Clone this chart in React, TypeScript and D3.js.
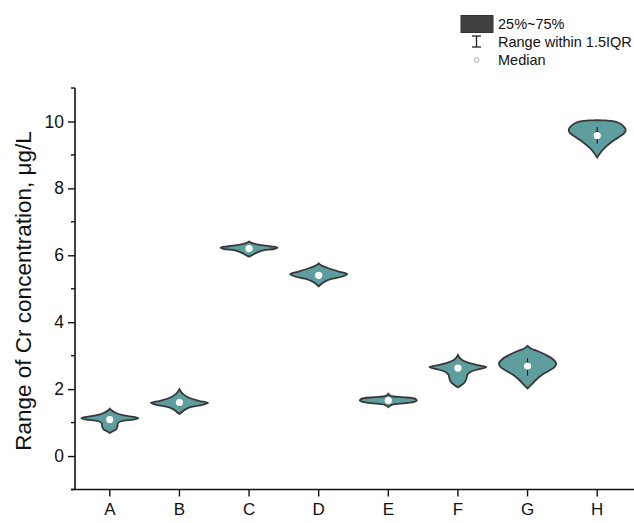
import React, { useEffect, useRef } from 'react';
import * as d3 from 'd3';

// groups on the x axis
const categories = ['A', 'B', 'C', 'D', 'E', 'F', 'G', 'H'];

// violin outlines: [value, relative density]
const profileA = [[1.42, 0], [1.36, 0.07], [1.30, 0.18], [1.22, 0.45], [1.16, 0.88], [1.13, 1.0], [1.09, 0.82], [1.04, 0.4], [0.98, 0.28], [0.88, 0.27], [0.80, 0.22], [0.74, 0.1], [0.69, 0]];
const profileB = [[2.00, 0], [1.93, 0.05], [1.85, 0.13], [1.75, 0.32], [1.65, 0.68], [1.59, 1.0], [1.53, 0.8], [1.46, 0.38], [1.38, 0.18], [1.30, 0.07], [1.26, 0]];
const profileC = [[6.41, 0], [6.37, 0.08], [6.32, 0.32], [6.27, 0.72], [6.23, 1.0], [6.19, 0.9], [6.15, 0.5], [6.10, 0.33], [6.04, 0.18], [5.99, 0.07], [5.96, 0]];
const profileD = [[5.76, 0], [5.70, 0.08], [5.62, 0.32], [5.52, 0.68], [5.44, 1.0], [5.38, 0.88], [5.30, 0.48], [5.22, 0.23], [5.14, 0.09], [5.07, 0]];
const profileE = [[1.86, 0], [1.80, 0.08], [1.76, 0.5], [1.73, 0.85], [1.70, 0.97], [1.66, 1.0], [1.62, 0.9], [1.58, 0.6], [1.53, 0.12], [1.46, 0]];
const profileF = [[3.02, 0], [2.95, 0.05], [2.88, 0.13], [2.80, 0.33], [2.72, 0.68], [2.66, 1.0], [2.60, 0.75], [2.52, 0.45], [2.43, 0.33], [2.32, 0.3], [2.22, 0.25], [2.13, 0.14], [2.05, 0]];
const profileG = [[3.29, 0], [3.22, 0.1], [3.14, 0.35], [3.02, 0.65], [2.90, 0.88], [2.78, 1.0], [2.66, 0.95], [2.55, 0.75], [2.42, 0.5], [2.28, 0.3], [2.14, 0.14], [2.02, 0]];
const profileH = [[10.04, 0], [10.03, 0.3], [10.01, 0.55], [9.96, 0.75], [9.86, 0.92], [9.75, 1.0], [9.65, 0.95], [9.50, 0.7], [9.35, 0.45], [9.20, 0.25], [9.05, 0.1], [8.92, 0]];
const profiles = [profileA, profileB, profileC, profileD, profileE, profileF, profileG, profileH];

// box stats per group
const medians = [1.09, 1.60, 6.20, 5.40, 1.66, 2.63, 2.69, 9.58];
const q1s = [1.04, 1.55, 6.17, 5.36, 1.63, 2.58, 2.58, 9.50];
const q3s = [1.14, 1.65, 6.23, 5.45, 1.69, 2.68, 2.80, 9.70];
const whiskLo = [0.98, 1.48, 6.12, 5.30, 1.60, 2.52, 2.40, 9.34];
const whiskHi = [1.20, 1.70, 6.27, 5.50, 1.72, 2.74, 2.93, 9.83];

const yTicks = [0, 2, 4, 6, 8, 10];
const yMinorTicks = [-1, 1, 3, 5, 7, 9, 11];

const legendLabels = ['25%~75%', 'Range within 1.5IQR', 'Median'];

const W = 634, H = 523;
const font = 'Arial, "Liberation Sans", sans-serif';

export default function App() {
  const ref = useRef<SVGSVGElement>(null);

  useEffect(() => {
    const svg = d3.select(ref.current);
    svg.selectAll('*').remove();

    const x = d3.scaleBand().domain(categories).range([75, 632]);
    const y = d3.scaleLinear().domain([-1, 11]).range([489.5, 88]);
    const wScale = d3.scaleLinear().domain([0, 1]).range([0, 28.5]);

    // axes
    const yAxis = d3.axisLeft(y).tickValues(yTicks).tickSize(7).tickPadding(4).tickFormat(d3.format('d'));
    const gy = svg.append('g').attr('transform', 'translate(75,0)').call(yAxis);
    gy.select('.domain').remove();
    gy.selectAll('text').attr('font-size', 17.5).attr('font-family', font).attr('fill', '#111');
    gy.selectAll('line').attr('stroke', '#111').attr('stroke-width', 1.4);
    gy.selectAll('.minor')
      .data(yMinorTicks)
      .join('line')
      .attr('class', 'minor')
      .attr('x1', -4).attr('x2', 0)
      .attr('y1', d => y(d)).attr('y2', d => y(d))
      .attr('stroke', '#111').attr('stroke-width', 1.4);
    svg.append('line').attr('x1', 75).attr('x2', 75).attr('y1', 88).attr('y2', 489.5)
      .attr('stroke', '#111').attr('stroke-width', 1.6);

    const xAxis = d3.axisBottom(x).tickSize(7).tickPadding(6);
    const gx = svg.append('g').attr('transform', 'translate(0,489.5)').call(xAxis);
    gx.select('.domain').remove();
    gx.selectAll('text').attr('font-size', 17).attr('font-family', font).attr('fill', '#111');
    gx.selectAll('line').attr('stroke', '#111').attr('stroke-width', 1.4);
    svg.append('line').attr('x1', 71).attr('x2', 634).attr('y1', 489.5).attr('y2', 489.5)
      .attr('stroke', '#111').attr('stroke-width', 1.6);

    svg.append('text')
      .attr('transform', 'translate(31,291) rotate(-90)')
      .attr('text-anchor', 'middle')
      .attr('font-size', 22.5)
      .attr('font-family', font)
      .attr('fill', '#111')
      .text('Range of Cr concentration, μg/L');

    // violins
    const area = d3.area<number[]>()
      .y(d => y(d[0]))
      .x0(d => -wScale(d[1]))
      .x1(d => wScale(d[1]))
      .curve(d3.curveCatmullRom.alpha(0.5));

    categories.forEach((c, i) => {
      const cx = (x(c) as number) + x.bandwidth() / 2;
      const g = svg.append('g').attr('transform', `translate(${cx},0)`);
      g.append('path')
        .attr('d', area(profiles[i] as number[][]))
        .attr('fill', '#5f9e9e')
        .attr('stroke', '#383838')
        .attr('stroke-width', 1.8)
        .attr('stroke-linejoin', 'miter');
      g.append('line')
        .attr('x1', 0).attr('x2', 0)
        .attr('y1', y(whiskLo[i])).attr('y2', y(whiskHi[i]))
        .attr('stroke', '#111').attr('stroke-width', 1);
      g.append('rect')
        .attr('x', -2).attr('width', 4)
        .attr('y', y(q3s[i])).attr('height', y(q1s[i]) - y(q3s[i]))
        .attr('fill', '#222');
      g.append('circle')
        .attr('cx', 0).attr('cy', y(medians[i])).attr('r', 3.6)
        .attr('fill', '#fff');
    });

    // legend
    const lg = svg.append('g');
    lg.append('rect').attr('x', 461).attr('y', 15.5).attr('width', 32).attr('height', 17)
      .attr('fill', '#404040').attr('stroke', '#333');
    lg.append('line').attr('x1', 476.5).attr('x2', 476.5).attr('y1', 36).attr('y2', 47).attr('stroke', '#222').attr('stroke-width', 1.3);
    lg.append('line').attr('x1', 472).attr('x2', 481).attr('y1', 36).attr('y2', 36).attr('stroke', '#222').attr('stroke-width', 1.3);
    lg.append('line').attr('x1', 472).attr('x2', 481).attr('y1', 47).attr('y2', 47).attr('stroke', '#222').attr('stroke-width', 1.3);
    lg.append('circle').attr('cx', 476.5).attr('cy', 60).attr('r', 2.3)
      .attr('fill', '#fff').attr('stroke', '#999').attr('stroke-width', 0.8);
    lg.selectAll('.lt')
      .data(legendLabels)
      .join('text')
      .attr('class', 'lt')
      .attr('x', 498)
      .attr('y', (d, i) => 29 + i * 18)
      .attr('font-size', 14.5)
      .attr('font-family', font)
      .attr('fill', '#111')
      .text(d => d);
  }, []);

  return (
    <svg ref={ref} width={W} height={H} style={{ position: 'absolute', left: 0, top: 0, background: '#fff' }} />
  );
}
